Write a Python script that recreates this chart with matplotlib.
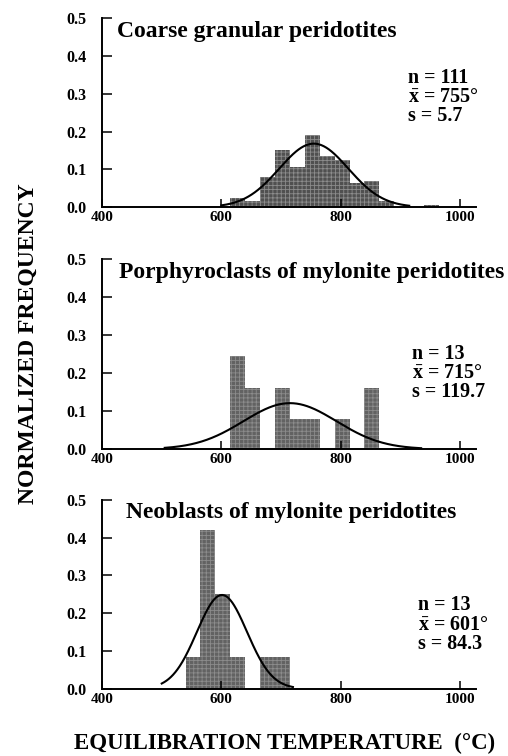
import numpy as np
import matplotlib
matplotlib.use("Agg")
import matplotlib.pyplot as plt

plt.rcParams['font.family'] = ['Liberation Serif', 'DejaVu Serif']
plt.rcParams['font.weight'] = 'bold'
plt.rcParams['mathtext.fontset'] = 'custom'
plt.rcParams['mathtext.rm'] = 'Liberation Serif:bold'
plt.rcParams['mathtext.bf'] = 'Liberation Serif:bold'
plt.rcParams['hatch.linewidth'] = 0.6

bin_width = 25

# coarse granular peridotites
coarse_left = [615, 640, 665, 690, 715, 740, 765, 790, 815, 840, 865, 940]
coarse_freq = [0.025, 0.016, 0.08, 0.15, 0.105, 0.19, 0.135, 0.125, 0.065, 0.07, 0.015, 0.005]

# porphyroclasts of mylonite peridotites
porph_left = [615, 640, 690, 715, 740, 790, 840]
porph_freq = [0.245, 0.16, 0.16, 0.08, 0.08, 0.08, 0.16]

# neoblasts of mylonite peridotites
neo_left = [540, 565, 590, 615, 665, 690]
neo_freq = [0.085, 0.42, 0.25, 0.085, 0.085, 0.085]

titles = ["Coarse granular peridotites",
          "Porphyroclasts of mylonite peridotites",
          "Neoblasts of mylonite peridotites"]
n_vals = [111, 13, 13]
means = [755, 715, 601]
s_vals = ["5.7", "119.7", "84.3"]

# fitted normal curves: peak height, spread, drawn range
curve_peak = [0.168, 0.121, 0.248]
curve_sigma = [58, 78, 42]
curve_range = [(600, 915), (505, 935), (500, 720)]

panels = [(coarse_left, coarse_freq), (porph_left, porph_freq), (neo_left, neo_freq)]
bar_colors = ['#505050', '#626262', '#626262']

fig = plt.figure(figsize=(5.08, 7.56), dpi=100)

ax_rects = [[0.201, 0.726, 0.736, 0.250],
            [0.201, 0.406, 0.736, 0.251],
            [0.201, 0.089, 0.736, 0.250]]
title_pos = [(0.04, 0.93), (0.045, 0.93), (0.065, 0.93)]
stat_pos = [(0.818, 0.582), (0.829, 0.40), (0.845, 0.339)]

for k in range(3):
    ax = fig.add_axes(ax_rects[k])
    left, freq = panels[k]
    ax.bar(left, freq, width=bin_width, align='edge', color=bar_colors[k],
           edgecolor='#8c8c8c', linewidth=0, hatch='++++', zorder=1)

    xs = np.linspace(curve_range[k][0], curve_range[k][1], 300)
    ys = curve_peak[k] * np.exp(-(xs - means[k]) ** 2 / (2 * curve_sigma[k] ** 2))
    ax.plot(xs, ys, color='black', lw=1.5, zorder=3)

    ax.set_xlim(400, 1027)
    ax.set_ylim(0, 0.5)
    ax.set_xticks([400, 600, 800, 1000])
    ax.set_yticks([0.0, 0.1, 0.2, 0.3, 0.4, 0.5])
    ax.set_yticklabels(['0.0', '0.1', '0.2', '0.3', '0.4', '0.5'])
    ax.tick_params(axis='y', direction='in', length=7, width=1.1, pad=11, labelsize=11.5)
    ax.tick_params(axis='x', direction='in', length=6, width=1.1, pad=3, labelsize=11)
    for sp in ['top', 'right']:
        ax.spines[sp].set_visible(False)
    for sp in ['left', 'bottom']:
        ax.spines[sp].set_linewidth(1.4)
    ax.spines['left'].set_bounds(0, 0.5)

    ax.text(title_pos[k][0], title_pos[k][1], titles[k], transform=ax.transAxes,
            fontsize=17, fontweight='bold', ha='left', va='center')
    stats = "n = %d\n$\\bar{\\mathrm{x}}$ = %d°\ns = %s" % (n_vals[k], means[k], s_vals[k])
    ax.text(stat_pos[k][0], stat_pos[k][1], stats, transform=ax.transAxes,
            fontsize=14.4, fontweight='bold', ha='left', va='center', linespacing=0.95)

fig.text(0.055, 0.546, "NORMALIZED FREQUENCY", rotation=90, ha='center', va='center',
         fontsize=17, fontweight='bold')
fig.text(0.561, 0.016, "EQUILIBRATION TEMPERATURE  (°C)", ha='center', va='center',
         fontsize=16.5, fontweight='bold')

fig.savefig("out.png", dpi=100)
